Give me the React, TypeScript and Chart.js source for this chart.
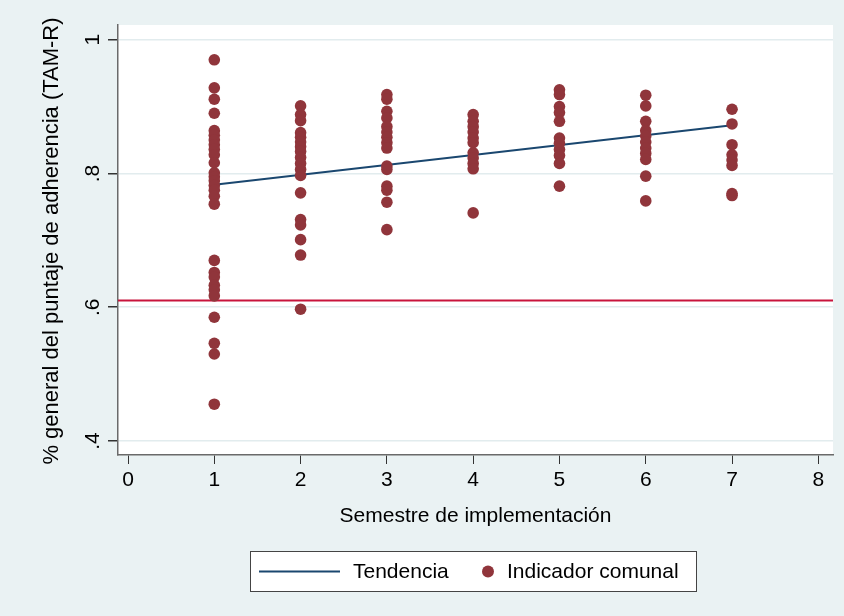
import { useEffect, useRef } from "react";
import { Chart, registerables } from "chart.js";

Chart.register(...registerables);

// ---- data ----
const semesters = [1, 2, 3, 4, 5, 6, 7];
const sem1 = [0.970, 0.928, 0.911, 0.890, 0.864, 0.857, 0.850, 0.843, 0.836, 0.828, 0.816, 0.801, 0.795, 0.789, 0.782, 0.775, 0.766, 0.754, 0.670, 0.652, 0.645, 0.633, 0.626, 0.617, 0.585, 0.546, 0.530, 0.455];
const sem2 = [0.901, 0.888, 0.879, 0.861, 0.854, 0.847, 0.840, 0.833, 0.824, 0.815, 0.806, 0.797, 0.771, 0.731, 0.723, 0.701, 0.678, 0.597];
const sem3 = [0.918, 0.911, 0.893, 0.883, 0.870, 0.862, 0.854, 0.846, 0.838, 0.811, 0.806, 0.781, 0.775, 0.757, 0.716];
const sem4 = [0.888, 0.878, 0.870, 0.862, 0.853, 0.846, 0.831, 0.823, 0.815, 0.807, 0.741];
const sem5 = [0.925, 0.918, 0.900, 0.891, 0.878, 0.853, 0.845, 0.836, 0.827, 0.815, 0.781];
const sem6 = [0.917, 0.901, 0.878, 0.864, 0.856, 0.847, 0.838, 0.830, 0.821, 0.796, 0.759];
const sem7 = [0.896, 0.874, 0.843, 0.828, 0.820, 0.812, 0.770, 0.767];
const indicatorValues = [sem1, sem2, sem3, sem4, sem5, sem6, sem7];

const trendX = [1, 7];
const trendY = [0.783, 0.872];
const referenceLevel = 0.61;

const xTicks = [0, 1, 2, 3, 4, 5, 6, 7, 8];
const yTicks = [0.4, 0.6, 0.8, 1];
const yTickLabels = [".4", ".6", ".8", "1"];
const xRange = [-0.116, 8.17];
const yRange = [0.379, 1.022];

const xTitle = "Semestre de implementación";
const yTitle = "% general del puntaje de adherencia (TAM-R)";
const trendLabel = "Tendencia";
const pointLabel = "Indicador comunal";

// ---- styles ----
const BG = "rgb(234,242,243)";
const NAVY = "rgb(26,71,111)";
const MAROON = "rgb(144,53,59)";
const RED = "rgb(200,20,60)";
const AXIS = "#6a6a6a";
const FONT = "'Liberation Sans', Arial, sans-serif";
const FS = 21;

export default function App() {
  const ref = useRef<HTMLCanvasElement | null>(null);

  useEffect(() => {
    document.body.style.margin = "0";
    const canvas = ref.current;
    if (!canvas) return;

    const scatterData: { x: number; y: number }[] = [];
    semesters.forEach((s, i) => {
      indicatorValues[i].forEach((v) => scatterData.push({ x: s, y: v }));
    });

    const decor = {
      id: "decor",
      beforeDraw(chart: any) {
        const { ctx, chartArea } = chart;
        ctx.save();
        ctx.fillStyle = BG;
        ctx.fillRect(0, 0, chart.width, chart.height);
        ctx.fillStyle = "#fff";
        ctx.fillRect(chartArea.left, chartArea.top, chartArea.right - chartArea.left, chartArea.bottom - chartArea.top);
        ctx.restore();
      },
      afterDraw(chart: any) {
        const { ctx, chartArea } = chart;
        const ys = chart.scales.y;
        ctx.save();
        ctx.fillStyle = "#000";
        ctx.font = `${FS}px ${FONT}`;
        // y tick labels, rotated
        yTicks.forEach((v, i) => {
          const py = ys.getPixelForValue(v);
          ctx.save();
          ctx.translate(99, py);
          ctx.rotate(-Math.PI / 2);
          ctx.textAlign = "center";
          ctx.textBaseline = "alphabetic";
          ctx.fillText(yTickLabels[i], 0, 0);
          ctx.restore();
        });
        // y title
        ctx.save();
        ctx.font = `22px ${FONT}`;
        ctx.translate(52, (chartArea.top + chartArea.bottom) / 2 + 1);
        ctx.rotate(-Math.PI / 2);
        ctx.textAlign = "center";
        ctx.textBaseline = "middle";
        ctx.fillText(yTitle, 0, 0);
        ctx.restore();
        // x title
        ctx.textAlign = "center";
        ctx.textBaseline = "middle";
        ctx.fillText(xTitle, (chartArea.left + chartArea.right) / 2, 516);

        // legend
        const ds = chart.data.datasets;
        const lx = 250.5, ly = 551.5, lw = 446, lh = 40;
        ctx.fillStyle = "#fff";
        ctx.fillRect(lx, ly, lw, lh);
        ctx.strokeStyle = "#444";
        ctx.lineWidth = 1;
        ctx.strokeRect(lx, ly, lw, lh);
        const cy = ly + lh / 2;
        ctx.strokeStyle = ds[1].borderColor;
        ctx.lineWidth = 2;
        ctx.beginPath();
        ctx.moveTo(259, cy);
        ctx.lineTo(340, cy);
        ctx.stroke();
        ctx.fillStyle = "#000";
        ctx.textAlign = "left";
        ctx.fillText(ds[1].label, 353, cy + 1);
        ctx.fillStyle = ds[0].backgroundColor;
        ctx.beginPath();
        ctx.arc(488, cy, 6, 0, Math.PI * 2);
        ctx.fill();
        ctx.fillStyle = "#000";
        ctx.fillText(ds[0].label, 507, cy + 1);
        ctx.restore();
      },
    };

    const chart = new Chart(canvas, {
      type: "scatter",
      data: {
        datasets: [
          {
            label: pointLabel,
            data: scatterData,
            backgroundColor: MAROON,
            borderColor: MAROON,
            borderWidth: 0,
            pointRadius: 5.8,
            pointHoverRadius: 5.8,
            order: 0,
          } as any,
          {
            type: "line",
            label: trendLabel,
            data: trendX.map((x, i) => ({ x, y: trendY[i] })),
            borderColor: NAVY,
            borderWidth: 2,
            pointRadius: 0,
            fill: false,
            order: 1,
          },
          {
            type: "line",
            label: "referencia",
            data: xRange.map((x) => ({ x, y: referenceLevel })),
            borderColor: RED,
            borderWidth: 2,
            pointRadius: 0,
            fill: false,
            order: 2,
          },
        ],
      },
      options: {
        responsive: false,
        animation: false,
        devicePixelRatio: 1,
        layout: { padding: { left: 0, top: 25, right: 11, bottom: 0 } },
        plugins: { legend: { display: false }, tooltip: { enabled: false } },
        scales: {
          x: {
            type: "linear",
            min: xRange[0],
            max: xRange[1],
            afterBuildTicks: (s: any) => {
              s.ticks = xTicks.map((v) => ({ value: v }));
            },
            afterFit: (s: any) => {
              s.height = 161;
            },
            grid: { drawOnChartArea: false, drawTicks: true, tickLength: 9, tickColor: "#333" },
            border: { display: true, color: AXIS, width: 1.5 },
            ticks: { color: "#000", font: { family: FONT, size: FS }, padding: 4, maxRotation: 0 },
          },
          y: {
            type: "linear",
            min: yRange[0],
            max: yRange[1],
            afterBuildTicks: (s: any) => {
              s.ticks = yTicks.map((v) => ({ value: v }));
            },
            afterFit: (s: any) => {
              s.width = 118;
            },
            grid: { color: "rgb(226,236,238)", lineWidth: 1.5, drawTicks: true, tickLength: 10, tickColor: "#333" },
            border: { display: true, color: AXIS, width: 1.5 },
            ticks: { display: false },
          },
        },
      },
      plugins: [decor],
    });

    return () => chart.destroy();
  }, []);

  return (
    <div style={{ width: 844, height: 616 }}>
      <canvas ref={ref} width={844} height={616} style={{ display: "block" }} />
    </div>
  );
}
